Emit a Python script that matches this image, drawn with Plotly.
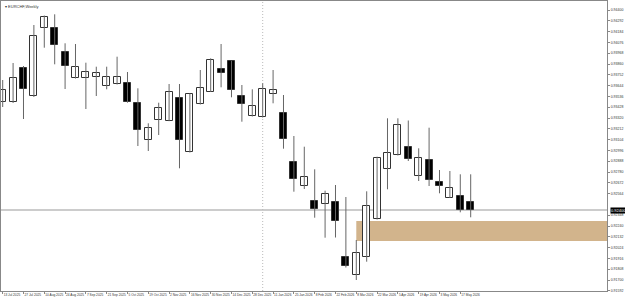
import pandas as pd
import plotly.graph_objects as go

# Weekly EURCHF candles (week start dates)
dates = pd.date_range("2025-07-13", periods=46, freq="7D")

opens = [0.9348, 0.9348, 0.9382, 0.9354, 0.94223, 0.94217, 0.93985, 0.93717, 0.93723, 0.93727,
         0.9364, 0.93657, 0.93667, 0.93467, 0.93097, 0.9330, 0.9329, 0.9352, 0.92977, 0.93457,
         0.93583, 0.93807, 0.93887, 0.9354, 0.93337, 0.93327, 0.93557, 0.93373, 0.92883, 0.92643,
         0.9249, 0.9246, 0.9248, 0.91935, 0.9175, 0.91927, 0.92307, 0.92807, 0.9295, 0.93033,
         0.9274, 0.9290, 0.9268, 0.92523, 0.92537, 0.9248]
highs = [0.9370, 0.9387, 0.9384, 0.9425, 0.94345, 0.94357, 0.94067, 0.9406, 0.93873, 0.93833,
         0.93833, 0.93933, 0.9378, 0.93617, 0.93267, 0.93473, 0.9366, 0.9366, 0.93565, 0.9380,
         0.93917, 0.9406, 0.93893, 0.9365, 0.93607, 0.93667, 0.9380, 0.9355, 0.9314, 0.93033,
         0.92807, 0.92593, 0.9265, 0.9253, 0.9210, 0.92587, 0.92933, 0.93317, 0.93317, 0.93295,
         0.93017, 0.93223, 0.9280, 0.9279, 0.92757, 0.92757]
lows = [0.9343, 0.9347, 0.9331, 0.9353, 0.94023, 0.93857, 0.9361, 0.93715, 0.9341, 0.9354,
        0.93607, 0.93655, 0.93473, 0.9304, 0.9299, 0.9315, 0.93288, 0.92817, 0.92975, 0.93455,
        0.9358, 0.93627, 0.93527, 0.93283, 0.93335, 0.93325, 0.93467, 0.93013, 0.92583, 0.9261,
        0.92323, 0.92123, 0.92125, 0.91825, 0.9170, 0.91883, 0.92305, 0.92607, 0.92945, 0.9289,
        0.9269, 0.9264, 0.92567, 0.9252, 0.92377, 0.92327]
closes = [0.9360, 0.9372, 0.9361, 0.9414, 0.94333, 0.9405, 0.9384, 0.93827, 0.93777, 0.93767,
          0.93727, 0.93727, 0.9348, 0.9320, 0.93217, 0.93417, 0.93577, 0.93097, 0.9356, 0.9362,
          0.93897, 0.93773, 0.93597, 0.9346, 0.93437, 0.93607, 0.93597, 0.93107, 0.92707, 0.92727,
          0.9241, 0.9256, 0.9229, 0.9184, 0.91967, 0.92443, 0.92917, 0.92967, 0.9325, 0.92913,
          0.92917, 0.9270, 0.92643, 0.92617, 0.9240, 0.9240]

# zone & markers
zone_start = "2026-03-08"
zone_low, zone_high = 0.9209, 0.9229
current_price = 0.92400
separator_date = "2026-01-04"

x_tick_dates = ["2025-07-13", "2025-07-27", "2025-08-10", "2025-08-24", "2025-09-07", "2025-09-21",
                "2025-10-05", "2025-10-19", "2025-11-02", "2025-11-16", "2025-11-30", "2025-12-14",
                "2025-12-28", "2026-01-11", "2026-01-25", "2026-02-08", "2026-02-22", "2026-03-08",
                "2026-03-22", "2026-04-05", "2026-04-19", "2026-05-03", "2026-05-17"]
x_tick_text = ["13 Jul 2025", "27 Jul 2025", "10 Aug 2025", "24 Aug 2025", "7 Sep 2025", "21 Sep 2025",
               "5 Oct 2025", "19 Oct 2025", "2 Nov 2025", "16 Nov 2025", "30 Nov 2025", "14 Dec 2025",
               "28 Dec 2025", "11 Jan 2026", "25 Jan 2026", "8 Feb 2026", "22 Feb 2026", "8 Mar 2026",
               "22 Mar 2026", "5 Apr 2026", "19 Apr 2026", "3 May 2026", "17 May 2026"]
y_tick_vals = [0.94400, 0.94292, 0.94184, 0.94076, 0.93968, 0.93860, 0.93752, 0.93644, 0.93536,
               0.93428, 0.93320, 0.93212, 0.93104, 0.92996, 0.92888, 0.92780, 0.92672, 0.92564,
               0.92348, 0.92240, 0.92132, 0.92024, 0.91916, 0.91808, 0.91700, 0.91592]
y_tick_text = ["%.5f" % v for v in y_tick_vals]

fig = go.Figure()

# wicks
wx, wy = [], []
for d, h, l in zip(dates, highs, lows):
    wx += [d, d, None]
    wy += [h, l, None]
fig.add_trace(go.Scatter(x=wx, y=wy, mode="lines", line=dict(color="#666666", width=1),
                         hoverinfo="skip", showlegend=False))

# bodies
bases = [min(o, c) for o, c in zip(opens, closes)]
heights = [max(abs(c - o), 0.00003) for o, c in zip(opens, closes)]
fills = ["#ffffff" if c > o else "#000000" for o, c in zip(opens, closes)]
fig.add_trace(go.Bar(x=dates, y=heights, base=bases, width=400_000_000,
                     marker=dict(color=fills, line=dict(color="#333333", width=1)),
                     showlegend=False))

fig.add_shape(type="rect", xref="x", yref="y", x0=zone_start, x1="2026-08-30",
              y0=zone_low, y1=zone_high, fillcolor="#d2b48c", line=dict(width=0), layer="below")
fig.add_shape(type="line", xref="paper", yref="y", x0=0, x1=1, y0=current_price, y1=current_price,
              line=dict(color="#999999", width=1), layer="below")
fig.add_shape(type="line", xref="x", yref="paper", x0=separator_date, x1=separator_date, y0=0, y1=1,
              line=dict(color="#bbbbbb", width=1, dash="1px,2px"), layer="below")

fig.add_annotation(xref="paper", yref="y", x=1, y=current_price, xanchor="left", yanchor="middle",
                   text="%.5f" % current_price, showarrow=False, bgcolor="#000000",
                   font=dict(color="#ffffff", size=4, family="Arial"), borderpad=0, xshift=3)
fig.add_annotation(xref="paper", yref="paper", x=0.004, y=0.995, xanchor="left", yanchor="top",
                   text="▾ EURCHF,Weekly", showarrow=False,
                   font=dict(color="#333333", size=4, family="Arial"))

fig.update_layout(
    width=625, height=298,
    margin=dict(l=1, r=18, t=1, b=7, autoexpand=False),
    paper_bgcolor="white", plot_bgcolor="white",
    barmode="overlay", bargap=0,
    showlegend=False,
)
fig.update_xaxes(type="date", range=["2025-07-11 20:38", "2026-08-23 18:00"],
                 tickvals=x_tick_dates, ticktext=x_tick_text, ticklabelposition="outside right",
                 tickangle=0, automargin=False,
                 tickfont=dict(size=3.2, color="#333333", family="Arial"),
                 ticks="outside", ticklen=2, tickcolor="#888888",
                 showgrid=False, zeroline=False, showline=True, linecolor="#888888", mirror=True,
                 rangeslider=dict(visible=False))
fig.update_yaxes(side="right", range=[0.9159, 0.9449], tickvals=y_tick_vals, ticktext=y_tick_text,
                 automargin=False,
                 tickfont=dict(size=3.5, color="#333333", family="Arial"),
                 ticks="outside", ticklen=2, tickcolor="#888888",
                 showgrid=False, zeroline=False, showline=True, linecolor="#888888", mirror=True)

fig.write_html("out.html")
